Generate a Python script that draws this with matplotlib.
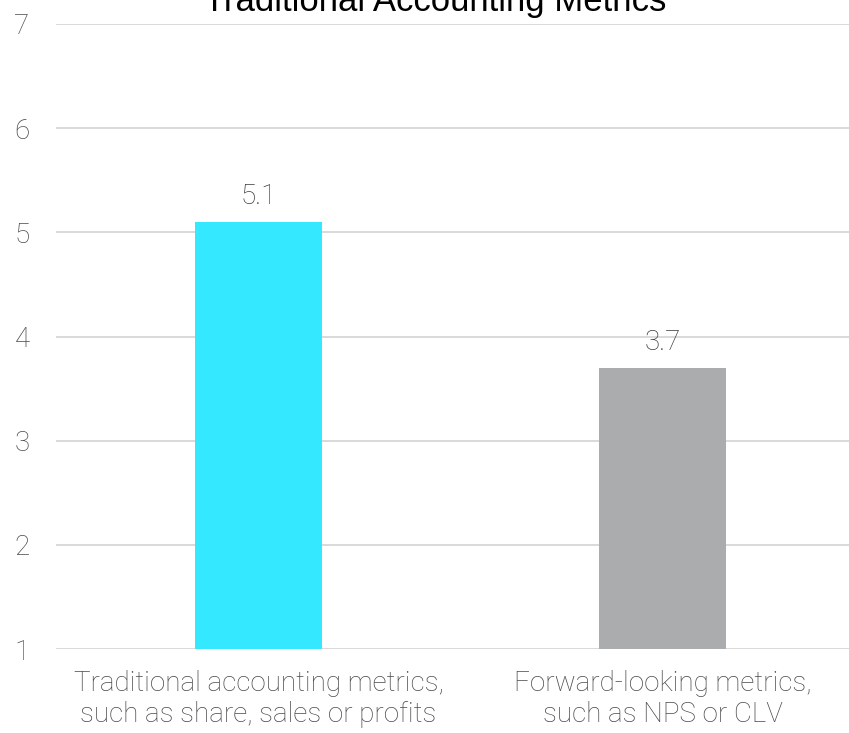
import matplotlib
matplotlib.use("Agg")
import matplotlib.pyplot as plt

categories = ["Traditional accounting metrics,\nsuch as share, sales or profits",
              "Forward-looking metrics,\nsuch as NPS or CLV"]
values = [5.1, 3.7]
colors = ["#33E8FF", "#ABACAE"]
yticks = [1, 2, 3, 4, 5, 6, 7]
title = "Traditional Accounting Metrics"

W, H = 849, 733
fig = plt.figure(figsize=(W/100, H/100), dpi=100)
ax = fig.add_axes([56/W, (H-649)/H, 1 - 56/W, (649-24)/H])

bottom = 1
ax.bar(range(len(values)), [v - bottom for v in values], bottom=bottom,
       width=0.314, color=colors, zorder=3)
for i, v in enumerate(values):
    ax.text(i, v + 0.17, f"{v:.1f}", ha="center", va="baseline",
            fontsize=20, color="#3A3A3A", family="Roboto", weight="light")

ax.set_ylim(1, 7)
ax.set_xlim(-0.501, 1.4616)
ax.set_yticks(yticks)
ax.set_yticklabels([str(t) for t in yticks], fontsize=20, color="#4A4A4A",
                   family="Roboto", weight="light")
ax.set_xticks(range(len(categories)))
ax.set_xticklabels(categories, fontsize=20, color="#4A4A4A",
                   family="Roboto", weight="light", linespacing=1.2)
ax.tick_params(axis="both", length=0)
ax.tick_params(axis="y", pad=19)
ax.tick_params(axis="x", pad=15)
ax.yaxis.grid(True, color="#D9D9D9", linewidth=1.4, zorder=0)
for s in ax.spines.values():
    s.set_visible(False)

fig.text(435/W, 1 - 11/H, title, ha="center", va="baseline",
         fontsize=25, color="black", family="Liberation Sans")

fig.savefig("out.png", dpi=100)
